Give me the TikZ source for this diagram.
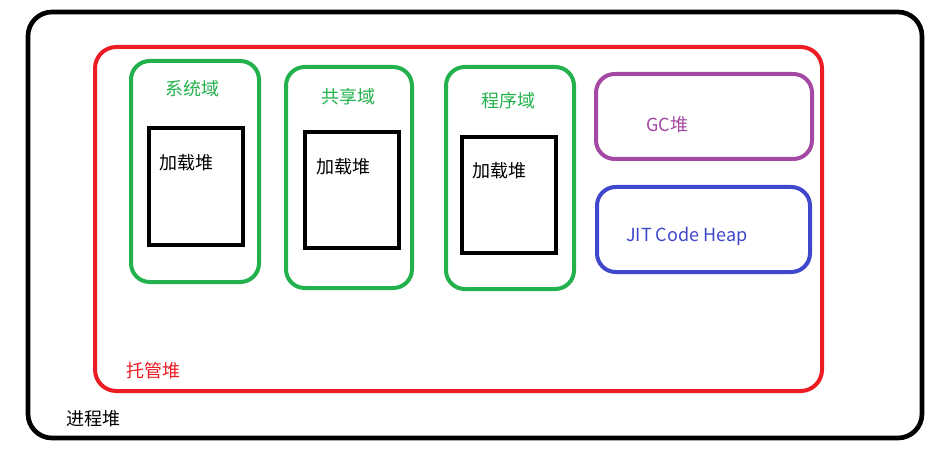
\documentclass[tikz,border=0pt]{standalone}
\usepackage{fontspec}
\setmainfont{Noto Sans CJK SC}
\definecolor{pgreen}{HTML}{22B14C}
\definecolor{pred}{HTML}{ED1C24}
\definecolor{ppurple}{HTML}{A349A4}
\definecolor{pblue}{HTML}{3F48CC}
\begin{document}
\begin{tikzpicture}[x=0.75pt,y=-0.75pt,
  lbl/.style={font=\fontsize{13.5pt}{15pt}\selectfont, inner sep=0pt},
  box/.style={draw, rounded corners=14pt, line width=3pt},
  inbox/.style={draw=black, line width=3pt}]
\useasboundingbox[fill=white] (0,0) rectangle (951,453);
\draw[line width=3.5pt, rounded corners=18pt] (28,12) rectangle (922,438);
\draw[box, draw=pred, rounded corners=16pt] (95,47) rectangle (822,391);
\draw[box, draw=pgreen] (131,61) rectangle (259,282);
\draw[inbox] (149,128) rectangle (243,245);
\draw[box, draw=pgreen] (286,67) rectangle (412,288);
\draw[inbox] (305,132) rectangle (399,248);
\draw[box, draw=pgreen] (446,67) rectangle (574,289);
\draw[inbox] (462,137) rectangle (556,253);
\draw[box, draw=ppurple] (596,74) rectangle (812,159);
\draw[box, draw=pblue] (597,187) rectangle (810,272);
\node[lbl, text=pgreen] (s1) at (192,89) {系统域};
\node[lbl, anchor=west] (l1) at (159,163) {加载堆};
\node[lbl, text=pgreen] (s2) at (348,97) {共享域};
\node[lbl, anchor=west] (l2) at (316,167) {加载堆};
\node[lbl, text=pgreen] (s3) at (508,101) {程序域};
\node[lbl, anchor=west] (l3) at (472,171) {加载堆};
\node[lbl, text=ppurple, anchor=west] (gc) at (646,125) {GC堆};
\node[lbl, text=pblue, anchor=west] (jit) at (626,236) {JIT Code Heap};
\node[lbl, text=pred, anchor=west] (mh) at (126,371) {托管堆};
\node[lbl, anchor=west] (ph) at (66,419) {进程堆};
\end{tikzpicture}
\end{document}
